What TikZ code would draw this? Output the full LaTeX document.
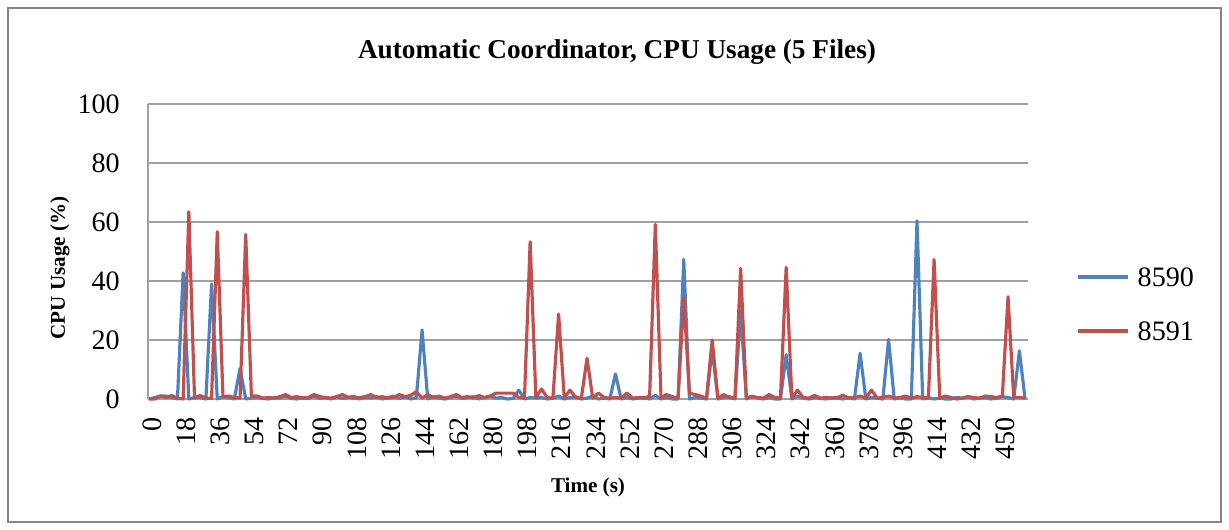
\documentclass[tikz,border=0pt]{standalone}
\usepackage{fontspec}
\setmainfont{Liberation Serif}
\usepackage{tikz}
\usetikzlibrary{positioning}

\definecolor{serblue}{RGB}{79,129,189}
\definecolor{serred}{RGB}{192,80,77}
\definecolor{gridgray}{RGB}{160,160,160}
\definecolor{framegray}{RGB}{134,134,134}

\begin{document}
\begin{tikzpicture}[x=0.02cm,y=0.02cm,
  gridline/.style={draw=gridgray,line width=1.1pt},
  s8590/.style={draw=serblue,line width=1.8pt,line join=round},
  s8591/.style={draw=serred,line width=1.8pt,line join=round},
  ticky/.style={anchor=east,font=\fontsize{16}{16}\selectfont},
  tickx/.style={anchor=east,rotate=90,inner sep=1pt,font=\fontsize{16}{16}\selectfont},
  axtitle/.style={font=\fontsize{12}{14}\selectfont\bfseries}]
  \useasboundingbox (0,0) rectangle (1229,530);
  \draw[framegray,line width=0.8pt] (8,8) rectangle (1221,522);
  \node[font=\fontsize{15.5}{18}\selectfont\bfseries] (title) at (617,478) {Automatic Coordinator, CPU Usage (5 Files)};
  % grid and axes
  \foreach \k in {1,...,5}
    \draw[gridline] (148,131+59*\k) -- (1028,131+59*\k);
  \draw[gridline] (148,131) -- (148,426);
  \draw[gridline] (148,131) -- (1028,131);
  \foreach \v [count=\k from 0] in {0,20,40,60,80,100}
    \node[ticky] (y\v) at (126,131+59*\k) {\v};
  \foreach \t in {0,18,...,450}
    \node[tickx] (x\t) at ({152+1.897*\t},115) {\t};
  \node[axtitle,rotate=90] (ylab) at (60,262) {CPU Usage (\%)};
  \node[axtitle] (xlab) at (588,43) {Time (s)};
  % series, one point every 3 s
  \coordinate (origin) at (149,131);
  \begin{scope}[shift={(origin)},x=0.03794cm,y=0.059cm]
    \draw[s8590] (0,0) \foreach \v [count=\i] in {0.5,1,1,0.5,0,42.8,0,0.5,0.5,0,39,0,0.8,0.5,0,10.4,0,0.3,0.5,0.2,
      0,0.5,0.3,1,0.2,0,0.5,0.2,1,0.2,0.5,0,0.8,0.2,0.5,1,0,0.5,0.3,0.8,
      0,0.5,1,0.2,0.8,0,0.5,23.4,0,0.8,0.3,0,0.5,1,0.2,0.5,0.8,0,0.5,1,
      0.3,0.5,0,0.2,3,0,0.5,0.3,0.5,0,0.3,1,0,0.5,0.8,0,0.3,1,0,0.3,
      0,8.5,0,0.5,0,0.3,0.5,0,1.2,0,0.5,0,0,47.3,0,0.5,0.3,0,17,0,
      0.5,0.8,0,30,0,1,0.3,0,0.5,0,0,15,0,1,0.3,0,0.5,0.2,0,0.5,
      0.3,0,0.5,0,15.5,0,0.5,0.3,0,20.2,0,0.5,0,0,60.4,0,0.5,0,0.3,0,
      0,0.5,0.3,0.8,0,0.3,0.5,0,0.3,0.8,0.5,0,16.3,0} { -- (3*\i,\v) };
    \draw[s8591] (0,0) \foreach \v [count=\i] in {0,1,0.5,1.2,0.3,0,63.5,0.3,1.2,0.3,0.2,56.7,0.8,1,0.5,0.3,55.8,1,1,0.3,
      0.5,0.3,0.8,1.5,0.5,0.8,0.3,0.5,1.5,0.8,0.5,0.3,0.8,1.5,0.6,0.3,0.5,0.8,1.5,0.5,
      0.8,0.3,0.5,1.5,0.8,1.2,2.5,0.3,1.5,0.5,1,0.3,0.8,1.5,0.5,0.8,0.3,1.2,0.5,1,
      2,2,2,2,0.5,0.3,53.3,0.5,3.4,0.5,0.3,28.8,0.3,3,0.5,0.3,13.8,0.3,2,0.5,
      0.3,0.5,0.3,2,0.3,0.5,0.3,1,59.2,0.5,1.5,0.8,0.3,34.3,2,1.5,1,0.3,20,0.3,
      1.5,0.5,0.2,44.3,0.5,0.8,0.5,0.3,1.5,0.5,0.3,44.6,0.3,3,0.5,0.3,1.2,0.3,0.5,0.3,
      0.5,1.3,0.3,0.5,1,0.3,3,0.3,0.5,1,0.3,0.5,1,0.3,0.8,0.5,0.3,47.3,0.3,1,
      0.5,0,0.3,0.8,0.5,0.3,1,0.8,0.5,1,34.7,0.5,0.5,0.3} { -- (3*\i,\v) };
  \end{scope}
  % legend
  \coordinate (b1) at (1078,253);
  \coordinate (b2) at (1128,253);
  \draw[s8590] (b1) -- (b2);
  \node[right=2pt of b2,font=\fontsize{16}{16}\selectfont] (leg8590) {8590};
  \coordinate (r1) at (1078,199);
  \coordinate (r2) at (1128,199);
  \draw[s8591] (r1) -- (r2);
  \node[right=2pt of r2,font=\fontsize{16}{16}\selectfont] (leg8591) {8591};
\end{tikzpicture}
\end{document}
